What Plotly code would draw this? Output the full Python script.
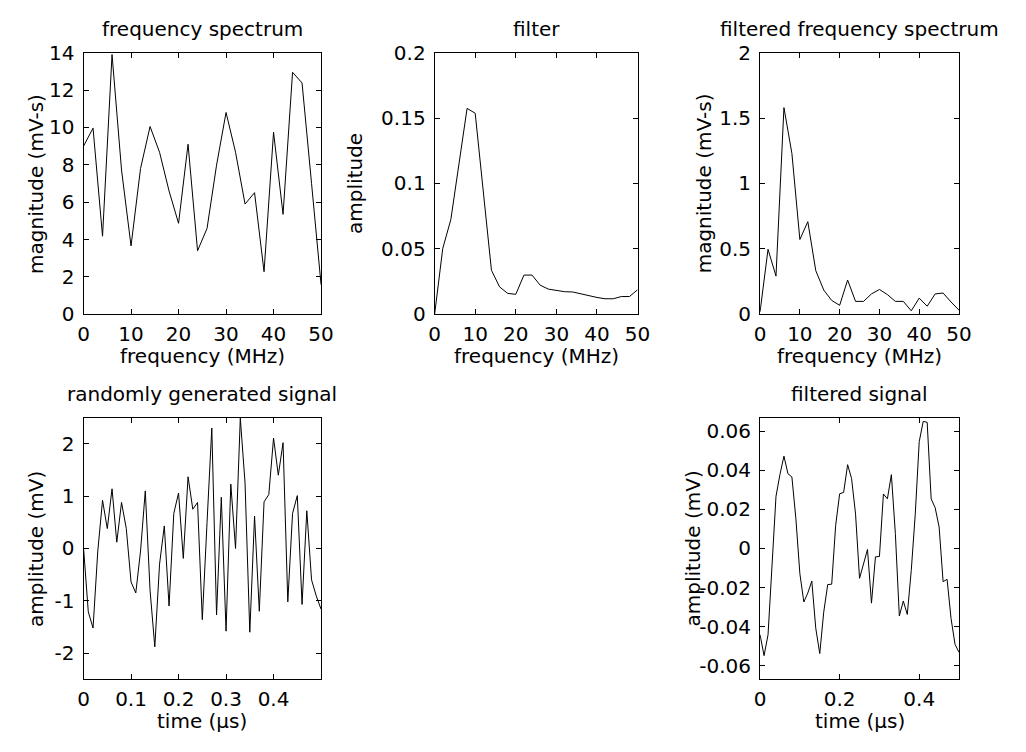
import plotly.graph_objects as go

# ---------------- data ----------------
freq = [0, 2, 4, 6, 8, 10, 12, 14, 16, 18, 20, 22, 24, 26, 28, 30, 32, 34, 36, 38, 40, 42, 44, 46, 48, 50]
spectrum = [9.0, 9.96, 4.18, 13.9, 7.72, 3.66, 7.8, 10.05, 8.67, 6.6, 4.87, 9.1, 3.4, 4.6, 7.98, 10.8,
            8.67, 5.9, 6.51, 2.28, 9.74, 5.35, 12.95, 12.38, 7.0, 1.59]
filter_amp = [0.0, 0.0502, 0.0725, 0.114, 0.1574, 0.1537, 0.094, 0.0337, 0.021, 0.016, 0.0153, 0.030,
              0.030, 0.0223, 0.0193, 0.0183, 0.0173, 0.0171, 0.0156, 0.0144, 0.0129, 0.0119, 0.0119,
              0.0136, 0.0136, 0.0188]
filtered_spectrum = [0.02, 0.497, 0.292, 1.58, 1.23, 0.572, 0.708, 0.334, 0.186, 0.106, 0.069, 0.262,
                     0.099, 0.099, 0.156, 0.19, 0.151, 0.099, 0.099, 0.027, 0.124, 0.062, 0.156, 0.163,
                     0.094, 0.032]
time_us = [0.00, 0.01, 0.02, 0.03, 0.04, 0.05, 0.06, 0.07, 0.08, 0.09,
           0.10, 0.11, 0.12, 0.13, 0.14, 0.15, 0.16, 0.17, 0.18, 0.19,
           0.20, 0.21, 0.22, 0.23, 0.24, 0.25, 0.26, 0.27, 0.28, 0.29,
           0.30, 0.31, 0.32, 0.33, 0.34, 0.35, 0.36, 0.37, 0.38, 0.39,
           0.40, 0.41, 0.42, 0.43, 0.44, 0.45, 0.46, 0.47, 0.48, 0.49, 0.50]
signal = [0.01, -1.21, -1.52, -0.05, 0.92, 0.38, 1.14, 0.12, 0.88, 0.38,
          -0.64, -0.85, -0.05, 1.10, -0.8, -1.88, -0.30, 0.43, -1.10, 0.67,
          1.06, -0.19, 1.37, 0.75, 0.88, -1.36, 0.5, 2.30, -1.27, 0.98,
          -1.58, 1.23, 0.0, 2.49, 1.25, -1.60, 0.62, -1.20, 0.89, 1.03,
          2.11, 1.40, 2.02, -1.02, 0.67, 1.01, -1.07, 0.72, -0.60, -0.91, -1.16]
filtered_signal = [-0.0442, -0.0549, -0.0442, -0.011, 0.0267, 0.0379, 0.0473, 0.0383, 0.0366, 0.0152,
                   -0.0129, -0.0274, -0.0228, -0.0167, -0.0409, -0.0538, -0.0326, -0.0185, -0.0183, 0.0119,
                   0.028, 0.0287, 0.0429, 0.0358, 0.0176, -0.0153, -0.0079, -0.0005, -0.028, -0.0043,
                   -0.0041, 0.0279, 0.0254, 0.0378, 0.0077, -0.0346, -0.0269, -0.0338, -0.0112, 0.0176,
                   0.0547, 0.0651, 0.0646, 0.0254, 0.0209, 0.011, -0.017, -0.0158, -0.0359, -0.0491, -0.0532]

freq_ticks = [0, 10, 20, 30, 40, 50]
freq_ticktext = ["0", "10", "20", "30", "40", "50"]
spec_ticks = [0, 2, 4, 6, 8, 10, 12, 14]
spec_ticktext = ["0", "2", "4", "6", "8", "10", "12", "14"]
filt_ticks = [0, 0.05, 0.1, 0.15, 0.2]
filt_ticktext = ["0", "0.05", "0.1", "0.15", "0.2"]
fspec_ticks = [0, 0.5, 1, 1.5, 2]
fspec_ticktext = ["0", "0.5", "1", "1.5", "2"]
t1_ticks = [0, 0.1, 0.2, 0.3, 0.4]
t1_ticktext = ["0", "0.1", "0.2", "0.3", "0.4"]
sig_ticks = [-2, -1, 0, 1, 2]
sig_ticktext = ["-2", "-1", "0", "1", "2"]
t2_ticks = [0, 0.2, 0.4]
t2_ticktext = ["0", "0.2", "0.4"]
fsig_ticks = [-0.06, -0.04, -0.02, 0, 0.02, 0.04, 0.06]
fsig_ticktext = ["-0.06", "-0.04", "-0.02", "0", "0.02", "0.04", "0.06"]

titles = ["frequency spectrum", "filter", "filtered frequency spectrum",
          "randomly generated signal", "filtered signal"]
xlabels = ["frequency (MHz)", "frequency (MHz)", "frequency (MHz)", "time (\u03bcs)", "time (\u03bcs)"]
ylabels = ["magnitude (mV-s)", "amplitude", "magnitude (mV-s)", "amplitude (mV)", "amplitude (mV)"]

# ---------------- layout geometry (pixels) ----------------
W, H = 1026, 752
FONT = "DejaVu Sans"
FS = 20


def fx(p):
    return p / W


def fy(p):
    return 1 - p / H


# panel boxes: (left, right, top, bottom) in pixels
boxes = [
    (79, 321, 42, 312.3),
    (436.7, 643.5, 42, 312.3),
    (768.3, 971, 42, 312.3),
    (79, 321, 419, 689.3),
    (768.3, 971, 419, 689.3),
]
ylabel_x = [31, 356, 712, 31, 700]

fig = go.Figure()

series = [
    (freq, spectrum),
    (freq, filter_amp),
    (freq, filtered_spectrum),
    (time_us, signal),
    (time_us, filtered_signal),
]
for i, (xs, ys) in enumerate(series):
    fig.add_trace(go.Scatter(
        x=xs, y=ys, mode="lines",
        line=dict(color="black", width=1),
        xaxis="x" if i == 0 else f"x{i+1}",
        yaxis="y" if i == 0 else f"y{i+1}",
        showlegend=False, hoverinfo="skip",
    ))

xcfg = [
    ([0, 50], freq_ticks, freq_ticktext),
    ([0, 50], freq_ticks, freq_ticktext),
    ([0, 50], freq_ticks, freq_ticktext),
    ([0, 0.5], t1_ticks, t1_ticktext),
    ([0, 0.5], t2_ticks, t2_ticktext),
]
ycfg = [
    ([0, 14], spec_ticks, spec_ticktext),
    ([0, 0.2], filt_ticks, filt_ticktext),
    ([0, 2], fspec_ticks, fspec_ticktext),
    ([-2.5, 2.5], sig_ticks, sig_ticktext),
    ([-0.067, 0.067], fsig_ticks, fsig_ticktext),
]


def axis_common():
    return dict(
        showline=True, linecolor="black", linewidth=1, mirror="ticks",
        ticks="inside", ticklen=5, tickwidth=1, tickcolor="black",
        showgrid=False, zeroline=False, fixedrange=True,
        tickfont=dict(family=FONT, size=FS, color="black"),
    )


layout_axes = {}
annotations = []
for i in range(5):
    l, r, t, b = boxes[i]
    xn = "xaxis" if i == 0 else f"xaxis{i+1}"
    yn = "yaxis" if i == 0 else f"yaxis{i+1}"
    xa = "x" if i == 0 else f"x{i+1}"
    ya = "y" if i == 0 else f"y{i+1}"
    xr, xtv, xtt = xcfg[i]
    yr, ytv, ytt = ycfg[i]
    d = axis_common()
    d.update(domain=[fx(l), fx(r)], range=xr, tickvals=xtv, ticktext=xtt, anchor=ya, ticklabelstandoff=2)
    layout_axes[xn] = d
    d = axis_common()
    d.update(domain=[fy(b), fy(t)], range=yr, tickvals=ytv, ticktext=ytt, anchor=xa, ticklabelstandoff=4)
    layout_axes[yn] = d

    cx = (l + r) / 2
    cy = (t + b) / 2
    # title
    annotations.append(dict(text=titles[i], x=fx(cx), y=fy(t - 24), xref="paper", yref="paper",
                            xanchor="center", yanchor="middle", showarrow=False,
                            font=dict(family=FONT, size=FS, color="black")))
    # x label
    annotations.append(dict(text=xlabels[i], x=fx(cx), y=fy(b + 43), xref="paper", yref="paper",
                            xanchor="center", yanchor="middle", showarrow=False,
                            font=dict(family=FONT, size=FS, color="black")))
    # y label
    annotations.append(dict(text=ylabels[i], x=fx(ylabel_x[i]), y=fy(cy), xref="paper", yref="paper",
                            xanchor="center", yanchor="middle", showarrow=False, textangle=-90,
                            font=dict(family=FONT, size=FS, color="black")))

fig.update_layout(
    width=W, height=H,
    margin=dict(l=0, r=0, t=0, b=0),
    paper_bgcolor="white", plot_bgcolor="white",
    annotations=annotations,
    **layout_axes,
)

fig.write_html("out.html", config={"displayModeBar": False})
